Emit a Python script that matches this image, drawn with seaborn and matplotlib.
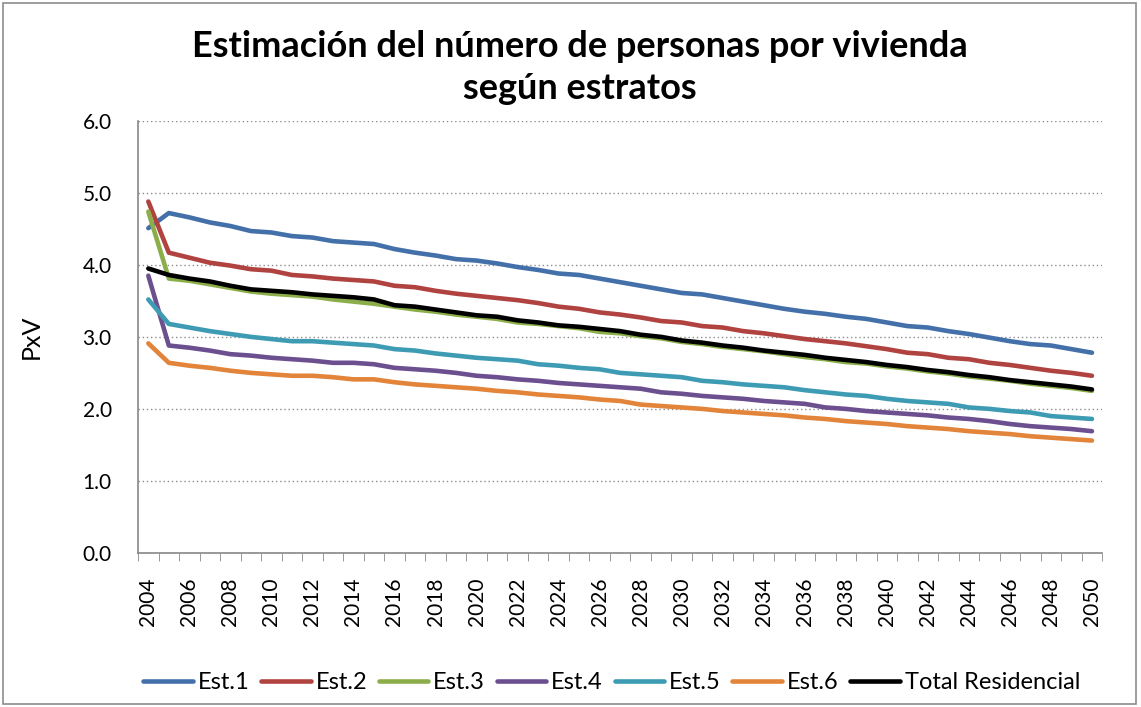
import matplotlib
matplotlib.use('Agg')
import matplotlib.pyplot as plt
from matplotlib.patches import Rectangle
from matplotlib.ticker import FixedLocator, FormatStrFormatter
import seaborn as sns
import pandas as pd
import numpy as np

anios = list(range(2004, 2051))

est_1 = [4.51, 4.72, 4.66, 4.59, 4.54, 4.47, 4.45, 4.40, 4.38, 4.33, 4.31, 4.29,
         4.22, 4.17, 4.13, 4.08, 4.06, 4.02, 3.97, 3.93, 3.88, 3.86, 3.81, 3.76,
         3.71, 3.66, 3.61, 3.59, 3.54, 3.49, 3.44, 3.39, 3.35, 3.32, 3.28,
         3.25, 3.20, 3.15, 3.13, 3.08, 3.04, 2.99, 2.94, 2.90, 2.88, 2.83, 2.78]
est_2 = [4.88, 4.17, 4.10, 4.03, 3.99, 3.94, 3.92, 3.86, 3.84, 3.81, 3.79, 3.77,
         3.71, 3.69, 3.64, 3.60, 3.57, 3.54, 3.51, 3.47, 3.42, 3.39, 3.34, 3.31,
         3.27, 3.22, 3.20, 3.15, 3.13, 3.08, 3.05, 3.01, 2.97, 2.94, 2.91,
         2.87, 2.83, 2.78, 2.76, 2.71, 2.69, 2.64, 2.61, 2.57, 2.53, 2.50, 2.46]
est_3 = [4.74, 3.81, 3.78, 3.73, 3.68, 3.63, 3.60, 3.58, 3.56, 3.52, 3.49, 3.46,
         3.42, 3.38, 3.35, 3.31, 3.28, 3.25, 3.20, 3.18, 3.15, 3.12, 3.07, 3.05,
         3.01, 2.98, 2.93, 2.90, 2.86, 2.83, 2.80, 2.76, 2.72, 2.69, 2.65,
         2.63, 2.59, 2.56, 2.52, 2.49, 2.45, 2.42, 2.39, 2.35, 2.32, 2.29, 2.25]
est_4 = [3.85, 2.88, 2.85, 2.81, 2.76, 2.74, 2.71, 2.69, 2.67, 2.64, 2.64, 2.62,
         2.57, 2.55, 2.53, 2.50, 2.46, 2.44, 2.41, 2.39, 2.36, 2.34, 2.32, 2.30,
         2.28, 2.23, 2.21, 2.18, 2.16, 2.14, 2.11, 2.09, 2.07, 2.02, 2.00,
         1.97, 1.95, 1.93, 1.91, 1.88, 1.86, 1.83, 1.79, 1.76, 1.74, 1.72, 1.69]
est_5 = [3.52, 3.18, 3.13, 3.08, 3.04, 3.00, 2.97, 2.94, 2.94, 2.92, 2.90, 2.88,
         2.83, 2.81, 2.77, 2.74, 2.71, 2.69, 2.67, 2.62, 2.60, 2.57, 2.55, 2.50,
         2.48, 2.46, 2.44, 2.39, 2.37, 2.34, 2.32, 2.30, 2.26, 2.23, 2.20,
         2.18, 2.14, 2.11, 2.09, 2.07, 2.02, 2.00, 1.97, 1.95, 1.90, 1.88, 1.86]
est_6 = [2.91, 2.64, 2.60, 2.57, 2.53, 2.50, 2.48, 2.46, 2.46, 2.44, 2.41, 2.41,
         2.37, 2.34, 2.32, 2.30, 2.28, 2.25, 2.23, 2.20, 2.18, 2.16, 2.13, 2.11,
         2.06, 2.04, 2.02, 2.00, 1.97, 1.95, 1.93, 1.91, 1.88, 1.86, 1.83,
         1.81, 1.79, 1.76, 1.74, 1.72, 1.69, 1.67, 1.65, 1.62, 1.60, 1.58, 1.56]
total_residencial = [3.95, 3.86, 3.81, 3.77, 3.71, 3.66, 3.64, 3.62, 3.59, 3.57, 3.55, 3.52,
                     3.44, 3.42, 3.38, 3.34, 3.30, 3.28, 3.23, 3.20, 3.16, 3.14, 3.11, 3.08,
                     3.03, 3.00, 2.95, 2.92, 2.88, 2.85, 2.81, 2.78, 2.75, 2.71, 2.68,
                     2.65, 2.61, 2.58, 2.54, 2.51, 2.47, 2.44, 2.40, 2.37, 2.34, 2.31, 2.27]

series = ['Est.1', 'Est.2', 'Est.3', 'Est.4', 'Est.5', 'Est.6', 'Total Residencial']
valores = [est_1, est_2, est_3, est_4, est_5, est_6, total_residencial]
colores = {
    'Est.1': '#4470AA',
    'Est.2': '#B0433F',
    'Est.3': '#8CAE4A',
    'Est.4': '#6B4F8F',
    'Est.5': '#3E9BB4',
    'Est.6': '#E2843A',
    'Total Residencial': '#000000',
}

# formato largo para seaborn
df = pd.DataFrame({'Anio': anios * len(series),
                   'PxV': sum(valores, []),
                   'Serie': np.repeat(series, len(anios))})

sns.set_style('white')
plt.rcParams['font.family'] = ['Lato', 'DejaVu Sans']
plt.rcParams['text.color'] = 'black'
plt.rcParams['axes.labelcolor'] = 'black'
plt.rcParams['xtick.labelcolor'] = 'black'
plt.rcParams['ytick.labelcolor'] = 'black'

fig = plt.figure(figsize=(11.41, 7.07), dpi=100)
ax = fig.add_axes([0.121, 0.218, 0.845, 0.611])

sns.lineplot(data=df, x='Anio', y='PxV', hue='Serie', hue_order=series,
             palette=colores, linewidth=3.3, ax=ax, legend=True)

ax.set_xlim(2003.5, 2050.5)
ax.set_ylim(0, 6)

# eje y
ax.set_yticks(np.arange(0, 6.1, 1))
ax.yaxis.set_major_formatter(FormatStrFormatter('%.1f'))
ax.tick_params(axis='y', direction='out', length=7, color='#888888', labelsize=15, pad=12)
ax.yaxis.grid(True, linestyle=(0, (1, 2)), color='#8c8c8c', linewidth=1)
ax.set_ylabel('PxV', fontsize=18)
ax.yaxis.set_label_coords(-0.099, 0.5)

# eje x: etiquetas cada 2 años, marcas entre categorias
ax.set_xticks(range(2004, 2051, 2))
ax.xaxis.set_minor_locator(FixedLocator(np.arange(2003.5, 2051, 1)))
ax.tick_params(axis='x', which='major', length=0, labelsize=15, labelrotation=90, pad=18)
ax.tick_params(axis='x', which='minor', direction='out', length=6, color='#888888', bottom=True)
ax.set_xlabel('')

for lado in ['top', 'right']:
    ax.spines[lado].set_visible(False)
for lado in ['left', 'bottom']:
    ax.spines[lado].set_color('#888888')
    ax.spines[lado].set_linewidth(1.2)

fig.text(0.508, 0.934, 'Estimación del número de personas por vivienda',
         ha='center', va='center', fontsize=26, fontweight='bold')
fig.text(0.508, 0.875, 'según estratos',
         ha='center', va='center', fontsize=26, fontweight='bold')

handles, labels = ax.get_legend_handles_labels()
ax.get_legend().remove()
fig.legend(handles, labels, loc='center', bbox_to_anchor=(0.536, 0.034), ncol=7,
           frameon=False, fontsize=17, handlelength=2.1, handletextpad=0.2,
           columnspacing=0.5)

# borde del area del grafico
fig.patches.append(Rectangle((0.003, 0.004), 0.993, 0.992, transform=fig.transFigure,
                             fill=False, edgecolor='#8c8c8c', linewidth=1.2))

plt.savefig('out.png', dpi=100)
plt.close()
